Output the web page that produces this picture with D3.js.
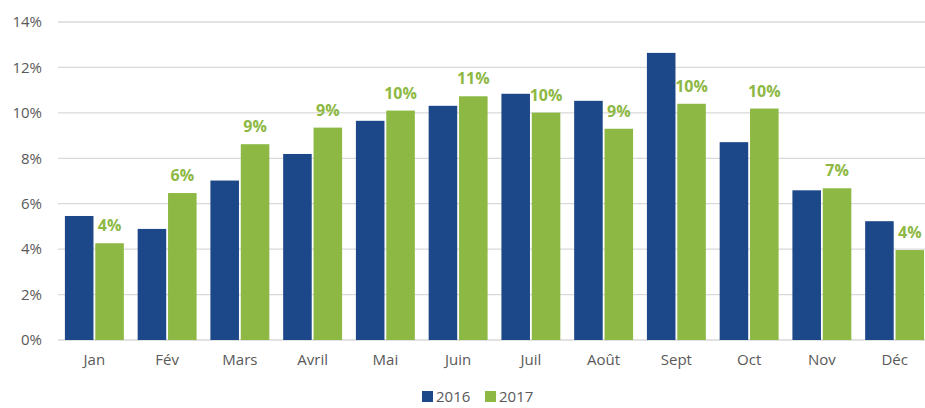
<!DOCTYPE html>
<html>
<head>
<meta charset="utf-8">
<script src="https://cdn.jsdelivr.net/npm/d3@7"></script>
<style>
  body { margin: 0; background: #fff; }
  svg { display: block; font-family: "Open Sans", "Noto Sans", sans-serif; }
</style>
</head>
<body>
<svg id="chart"></svg>
<script>
// Chart data
const months = ['Jan', 'Fév', 'Mars', 'Avril', 'Mai', 'Juin', 'Juil', 'Août', 'Sept', 'Oct', 'Nov', 'Déc'];
const series = ['2016', '2017'];
const values2016 = [5.46, 4.89, 7.02, 8.19, 9.65, 10.31, 10.84, 10.53, 12.64, 8.71, 6.59, 5.23];
const values2017 = [4.26, 6.47, 8.62, 9.35, 10.10, 10.73, 10.01, 9.30, 10.40, 10.19, 6.68, 3.96];
const yTicks = [0, 2, 4, 6, 8, 10, 12, 14];

const width = 925;
const height = 408;
const margin = { top: 22, right: -6, bottom: 68, left: 58 };
const colors = { '2016': '#1c4788', '2017': '#8db843' };

const svg = d3.select('#chart')
  .attr('width', width)
  .attr('height', height);

const x = d3.scaleBand()
  .domain(months)
  .range([margin.left, width - margin.right])
  .paddingInner(0.19)
  .paddingOuter(0.095);

const xSub = d3.scaleBand()
  .domain(series)
  .range([0, x.bandwidth()])
  .paddingInner(0.06);

const y = d3.scaleLinear()
  .domain([0, 14])
  .range([height - margin.bottom, margin.top]);

// gridlines
svg.append('g')
  .selectAll('line')
  .data(yTicks)
  .enter().append('line')
  .attr('x1', margin.left)
  .attr('x2', width)
  .attr('y1', d => y(d))
  .attr('y2', d => y(d))
  .attr('stroke', '#d9d9d9')
  .attr('stroke-width', 1.3);

// y axis labels
const yAxis = d3.axisLeft(y)
  .tickValues(yTicks)
  .tickSize(0)
  .tickPadding(16)
  .tickFormat(d => d + '%');

svg.append('g')
  .attr('transform', `translate(${margin.left},0)`)
  .call(yAxis)
  .call(g => g.select('.domain').remove())
  .selectAll('text')
  .attr('font-size', 15)
  .attr('font-family', '"Open Sans", sans-serif')
  .attr('fill', '#595959');

// x axis labels
const xAxis = d3.axisBottom(x).tickSize(0).tickPadding(14);

svg.append('g')
  .attr('transform', `translate(0,${y(0)})`)
  .call(xAxis)
  .call(g => g.select('.domain').remove())
  .selectAll('text')
  .attr('font-size', 15)
  .attr('font-family', '"Open Sans", sans-serif')
  .attr('fill', '#595959');

// bars
const rows = months.map((m, i) => ({ month: m, '2016': values2016[i], '2017': values2017[i] }));

const groups = svg.append('g')
  .selectAll('g')
  .data(rows)
  .enter().append('g')
  .attr('transform', d => `translate(${x(d.month)},0)`);

groups.selectAll('rect')
  .data(d => series.map(s => ({ key: s, value: d[s] })))
  .enter().append('rect')
  .attr('x', d => xSub(d.key))
  .attr('width', xSub.bandwidth())
  .attr('y', d => y(d.value))
  .attr('height', d => y(0) - y(d.value))
  .attr('fill', d => colors[d.key]);

// data labels on the 2017 series
groups.append('text')
  .attr('x', xSub('2017') + xSub.bandwidth() / 2)
  .attr('y', d => y(d['2017']) - 12)
  .attr('text-anchor', 'middle')
  .attr('font-size', 16)
  .attr('font-weight', 'bold')
  .attr('fill', '#8db843')
  .text(d => Math.round(d['2017']) + '%');

// legend
const legend = svg.append('g')
  .attr('transform', 'translate(422,389)');

const legendItems = legend.selectAll('g')
  .data(series)
  .enter().append('g')
  .attr('transform', (d, i) => `translate(${i * 63},0)`);

legendItems.append('rect')
  .attr('width', 11)
  .attr('height', 11)
  .attr('y', 2)
  .attr('fill', d => colors[d]);

legendItems.append('text')
  .attr('x', 14)
  .attr('y', 13)
  .attr('font-size', 15)
  .attr('fill', '#595959')
  .text(d => d);
</script>
</body>
</html>
